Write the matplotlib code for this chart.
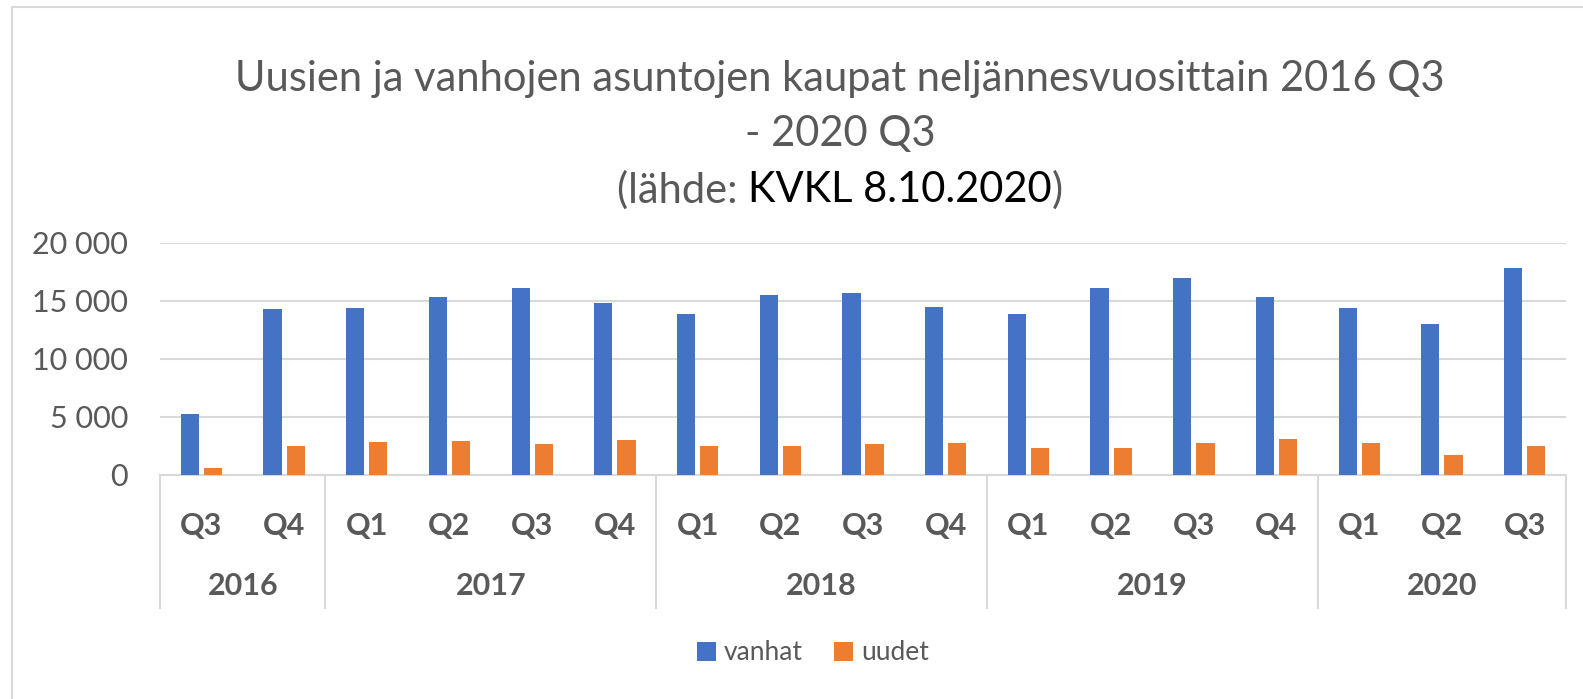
import numpy as np
import matplotlib
matplotlib.use("Agg")
import matplotlib.pyplot as plt
from matplotlib.patches import Rectangle

#====================================================================================================
## data
quarters = ['Q3', 'Q4',
            'Q1', 'Q2', 'Q3', 'Q4',
            'Q1', 'Q2', 'Q3', 'Q4',
            'Q1', 'Q2', 'Q3', 'Q4',
            'Q1', 'Q2', 'Q3']
years = ['2016', '2017', '2018', '2019', '2020']
quarters_per_year = [2, 4, 4, 4, 3]

vanhat = [5250, 14300, 14400, 15350, 16100, 14800, 13850, 15550, 15650,
          14500, 13850, 16100, 17000, 15300, 14400, 13000, 17800]
uudet = [600, 2450, 2800, 2900, 2600, 3000, 2450, 2450, 2600,
         2700, 2250, 2250, 2700, 3100, 2750, 1700, 2500]

yticks = [0, 5000, 10000, 15000, 20000]

#====================================================================================================
## style
plt.rcParams['font.family'] = ['Lato', 'DejaVu Sans']
c_blue = '#4472C4'
c_orange = '#ED7D31'
c_text = '#595959'
c_grid = '#D9D9D9'

W, H = 1583, 699
fig = plt.figure(figsize=(W / 100, H / 100), dpi=100)

# ramka kaavion ympärillä (oikea ja alareuna rajautuvat pois)
fig.patches.append(Rectangle((11.5 / W, -0.05), 1.2, 1 - 7.3 / H + 0.05,
                             transform=fig.transFigure, fill=False,
                             edgecolor=c_grid, lw=1.5))

ax = fig.add_axes([160 / W, 1 - 474.5 / H, (1566 - 160) / W, (474.5 - 243) / H])

x = np.arange(len(quarters))
ax.bar(x - 0.14, vanhat, width=0.22, color=c_blue, label='vanhat', zorder=3)
ax.bar(x + 0.14, uudet, width=0.22, color=c_orange, label='uudet', zorder=3)

ax.set_xlim(-0.5, len(quarters) - 0.5)
ax.set_ylim(0, 20000)
ax.set_yticks(yticks)
ax.set_yticklabels([f"{v:,.0f}".replace(',', ' ') for v in yticks])
ax.tick_params(axis='y', length=0, pad=23, labelsize=22, labelcolor=c_text)
ax.set_xticks([])
ax.grid(axis='y', color=c_grid, lw=1.5, zorder=0)
for s in ['top', 'right', 'left']:
    ax.spines[s].set_visible(False)
ax.spines['bottom'].set_color(c_grid)
ax.spines['bottom'].set_linewidth(1.5)

# kaksitasoinen kategoria-akseli
tr = ax.get_xaxis_transform()
for i, q in enumerate(quarters):
    ax.text(i, -0.2225, q, transform=tr, ha='center', va='center',
            fontsize=22, fontweight='bold', color=c_text)

start = 0
bounds = [-0.5]
for y, n in zip(years, quarters_per_year):
    ax.text(start + (n - 1) / 2, -0.48, y, transform=tr, ha='center', va='center',
            fontsize=22, fontweight='bold', color=c_text)
    start += n
    bounds.append(start - 0.5)
for b in bounds:
    ax.plot([b, b], [0, -0.5767], transform=tr, color=c_grid, lw=1.5, clip_on=False)

#====================================================================================================
## title
cx = 840 / W
fs_title = 30
fig.text(cx, 1 - 79 / H, 'Uusien ja vanhojen asuntojen kaupat neljännesvuosittain 2016 Q3',
         ha='center', va='center', fontsize=fs_title, color=c_text)
fig.text(cx, 1 - 134 / H, '- 2020 Q3', ha='center', va='center', fontsize=fs_title, color=c_text)

parts = [('(lähde: ', c_text), ('KVKL 8.10.2020', 'black'), (')', c_text)]
renderer = fig.canvas.get_renderer()
texts = [fig.text(0, 1 - 190 / H, s, ha='left', va='center', fontsize=fs_title, color=c)
         for s, c in parts]
widths = [t.get_window_extent(renderer).width for t in texts]
x0 = cx * W - sum(widths) / 2
for t, w in zip(texts, widths):
    t.set_x(x0 / W)
    x0 += w

#====================================================================================================
## legend
fig.legend(loc='center', bbox_to_anchor=(813 / W, 1 - 653 / H), ncol=2, frameon=False,
           fontsize=19, labelcolor=c_text, handlelength=0.7, handleheight=0.7,
           handletextpad=0.3, columnspacing=1.2)

fig.savefig('out.png', dpi=100)
